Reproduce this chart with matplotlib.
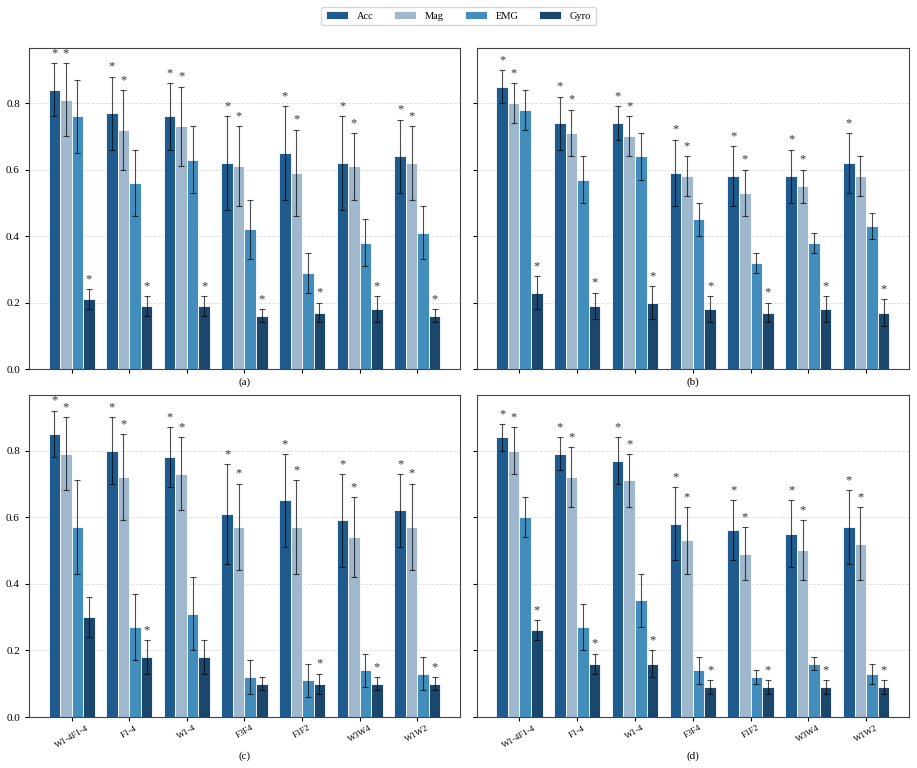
import numpy as np
import matplotlib.pyplot as plt

plt.rcParams['font.family'] = ['Liberation Serif', 'DejaVu Serif']

groups = ['W1-4F1-4', 'F1-4', 'W1-4', 'F3F4', 'F1F2', 'W3W4', 'W1W2']
sensors = ['Acc', 'Mag', 'EMG', 'Gyro']
colors = ['#1f5b8e', '#a0b8cd', '#438dbd', '#1a476b']

# panel (a)
a_acc = [0.84, 0.77, 0.76, 0.62, 0.65, 0.62, 0.64]
a_mag = [0.81, 0.72, 0.73, 0.61, 0.59, 0.61, 0.62]
a_emg = [0.76, 0.56, 0.63, 0.42, 0.29, 0.38, 0.41]
a_gyro = [0.21, 0.19, 0.19, 0.16, 0.17, 0.18, 0.16]
a_acc_err = [0.08, 0.11, 0.10, 0.14, 0.14, 0.14, 0.11]
a_mag_err = [0.11, 0.12, 0.12, 0.12, 0.13, 0.10, 0.11]
a_emg_err = [0.11, 0.10, 0.10, 0.09, 0.06, 0.07, 0.08]
a_gyro_err = [0.03, 0.03, 0.03, 0.02, 0.03, 0.04, 0.02]
a_star = [[1, 1, 1, 1, 1, 1, 1], [1, 1, 1, 1, 1, 1, 1],
          [0, 0, 0, 0, 0, 0, 0], [1, 1, 1, 1, 1, 1, 1]]

# panel (b)
b_acc = [0.85, 0.74, 0.74, 0.59, 0.58, 0.58, 0.62]
b_mag = [0.80, 0.71, 0.70, 0.58, 0.53, 0.55, 0.58]
b_emg = [0.78, 0.57, 0.64, 0.45, 0.32, 0.38, 0.43]
b_gyro = [0.23, 0.19, 0.20, 0.18, 0.17, 0.18, 0.17]
b_acc_err = [0.05, 0.08, 0.05, 0.10, 0.09, 0.08, 0.09]
b_mag_err = [0.06, 0.07, 0.06, 0.06, 0.07, 0.05, 0.06]
b_emg_err = [0.06, 0.07, 0.07, 0.05, 0.03, 0.03, 0.04]
b_gyro_err = [0.05, 0.04, 0.05, 0.04, 0.03, 0.04, 0.04]
b_star = [[1, 1, 1, 1, 1, 1, 1], [1, 1, 1, 1, 1, 1, 0],
          [0, 0, 0, 0, 0, 0, 0], [1, 1, 1, 1, 1, 1, 1]]

# panel (c)
c_acc = [0.85, 0.80, 0.78, 0.61, 0.65, 0.59, 0.62]
c_mag = [0.79, 0.72, 0.73, 0.57, 0.57, 0.54, 0.57]
c_emg = [0.57, 0.27, 0.31, 0.12, 0.11, 0.14, 0.13]
c_gyro = [0.30, 0.18, 0.18, 0.10, 0.10, 0.10, 0.10]
c_acc_err = [0.07, 0.10, 0.09, 0.15, 0.14, 0.14, 0.11]
c_mag_err = [0.11, 0.13, 0.11, 0.13, 0.14, 0.12, 0.13]
c_emg_err = [0.14, 0.10, 0.11, 0.05, 0.05, 0.05, 0.05]
c_gyro_err = [0.06, 0.05, 0.05, 0.02, 0.03, 0.02, 0.02]
c_star = [[1, 1, 1, 1, 1, 1, 1], [1, 1, 1, 1, 1, 1, 1],
          [0, 0, 0, 0, 0, 0, 0], [0, 1, 0, 0, 1, 1, 1]]

# panel (d)
d_acc = [0.84, 0.79, 0.77, 0.58, 0.56, 0.55, 0.57]
d_mag = [0.80, 0.72, 0.71, 0.53, 0.49, 0.50, 0.52]
d_emg = [0.60, 0.27, 0.35, 0.14, 0.12, 0.16, 0.13]
d_gyro = [0.26, 0.16, 0.16, 0.09, 0.09, 0.09, 0.09]
d_acc_err = [0.04, 0.05, 0.07, 0.11, 0.09, 0.10, 0.11]
d_mag_err = [0.07, 0.09, 0.08, 0.10, 0.08, 0.09, 0.11]
d_emg_err = [0.06, 0.07, 0.08, 0.04, 0.02, 0.02, 0.03]
d_gyro_err = [0.03, 0.03, 0.04, 0.02, 0.02, 0.02, 0.02]
d_star = [[1, 1, 1, 1, 1, 1, 1], [1, 1, 1, 1, 1, 1, 1],
          [0, 0, 0, 0, 0, 0, 0], [1, 1, 1, 1, 1, 1, 1]]

panels = [
    ('(a)', [a_acc, a_mag, a_emg, a_gyro], [a_acc_err, a_mag_err, a_emg_err, a_gyro_err], a_star),
    ('(b)', [b_acc, b_mag, b_emg, b_gyro], [b_acc_err, b_mag_err, b_emg_err, b_gyro_err], b_star),
    ('(c)', [c_acc, c_mag, c_emg, c_gyro], [c_acc_err, c_mag_err, c_emg_err, c_gyro_err], c_star),
    ('(d)', [d_acc, d_mag, d_emg, d_gyro], [d_acc_err, d_mag_err, d_emg_err, d_gyro_err], d_star),
]

fig = plt.figure(figsize=(9.17, 7.68), dpi=100)
rects = [[0.0316, 0.5195, 0.470, 0.418], [0.5198, 0.5195, 0.4714, 0.418],
         [0.0316, 0.0664, 0.470, 0.419], [0.5198, 0.0664, 0.4714, 0.419]]

x = np.arange(len(groups))
w = 0.2
handles = []
for i, (label, vals, errs, stars) in enumerate(panels):
    ax = fig.add_axes(rects[i])
    for j in range(4):
        pos = x + (j - 1.5) * w
        b = ax.bar(pos, vals[j], w, color=colors[j], edgecolor='white', linewidth=0.6,
                   label=sensors[j], zorder=2)
        ax.errorbar(pos, vals[j], yerr=errs[j], fmt='none', ecolor='black', elinewidth=0.8,
                    capsize=2, capthick=0.8, alpha=0.7, zorder=3)
        if i == 0:
            handles.append(b)
        for k in range(len(groups)):
            if stars[j][k]:
                ax.text(pos[k], vals[j][k] + errs[j][k] + 0.012, '*', ha='center', va='bottom',
                        fontsize=9, color='#333333')
    ax.set_ylim(0, 0.966)
    ax.set_xticks(x)
    if i >= 2:
        ax.set_xticklabels(groups, rotation=30, ha='center', fontsize=6.4)
    else:
        ax.set_xticklabels([])
    if i % 2 == 1:
        ax.set_yticklabels([])
    ax.tick_params(axis='y', labelsize=8, length=3)
    ax.tick_params(axis='x', length=3, pad=2)
    ax.set_xlabel(label, fontsize=8, labelpad=1)
    ax.grid(axis='y', linestyle='--', color='#cccccc', alpha=0.7, linewidth=0.6, zorder=0)
    for s in ax.spines.values():
        s.set_color('#444444')

fig.legend(handles, sensors, loc='center', bbox_to_anchor=(0.5, 0.979), ncol=4, fontsize=7.5,
           frameon=True, handlelength=2.1, handletextpad=0.85, columnspacing=2.0, borderpad=0.45)

plt.savefig('out.png', dpi=100)
